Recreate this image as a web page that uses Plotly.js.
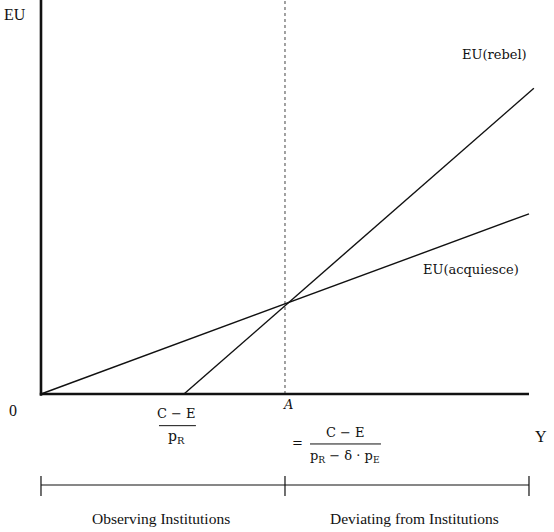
<!DOCTYPE html>
<html>
<head>
<meta charset="utf-8">
<script src="https://cdn.plot.ly/plotly-3.0.1.min.js"></script>
<style>html,body{margin:0;padding:0;background:#fff;}</style>
</head>
<body>
<div id="chart" style="width:554px;height:532px;"></div>
<script>
// Model values (x = Y, y = EU), A normalised to 1
const thresholdA = 1.0;
const axisEndX = 2.0;
const axisTopY = 4.33;
const acquiesceX = [0, 2.0];
const acquiesceY = [0, 1.98];
const rebelX = [0.586, 2.02];
const rebelY = [0, 3.36];
const bracketTicks = [0, 1, 2];
const regionLabels = ["Observing Institutions", "Deviating from Institutions"];
const lineLabels = ["EU(rebel)", "EU(acquiesce)"];

const ink = '#111';
const serif = 'Liberation Serif, Times New Roman, serif';
const mathSerif = 'DejaVu Serif, serif';
const bracketY = -1.0;

function seg(x, y, w, dash, color) {
  return {x: x, y: y, mode: 'lines', type: 'scatter', hoverinfo: 'skip', showlegend: false,
          line: {color: color || ink, width: w, dash: dash || 'solid'}};
}

const traces = [
  seg([thresholdA, thresholdA], [0, axisTopY], 1, 'dot', '#444'),
  seg(acquiesceX, acquiesceY, 1.4),
  seg(rebelX, rebelY, 1.4),
  seg([0, 0], [-0.02, axisTopY], 2.6),
  seg([-0.005, axisEndX], [0, 0], 2.6),
  seg([bracketTicks[0], bracketTicks[bracketTicks.length - 1]], [bracketY, bracketY], 1.2),
  seg([0.4836, 0.635], [-0.348, -0.348], 1),
  seg([1.1025, 1.3934], [-0.549, -0.549], 1)
];
bracketTicks.forEach(t => traces.push(seg([t, t], [-0.901, -1.121], 1.2)));

function ann(text, x, y, size, fam) {
  return {text: text, x: x, y: y, xref: 'x', yref: 'y', showarrow: false,
    xanchor: 'center', yanchor: 'middle', font: {family: fam || serif, size: size, color: ink}};
}

const annotations = [
  ann('EU', -0.1066, 4.165, 16),
  ann('0', -0.115, -0.176, 16),
  ann('Y', 2.049, -0.4615, 16),
  ann('<i>A</i>', 1.012, -0.11, 13, mathSerif),
  ann('C − E', 0.557, -0.209, 13, mathSerif),
  ann('p<sub>R</sub>', 0.557, -0.4725, 14, mathSerif),
  ann('=', 1.053, -0.538, 13, mathSerif),
  ann('C − E', 1.246, -0.418, 13, mathSerif),
  ann('p<sub>R</sub> − δ · p<sub>E</sub>', 1.246, -0.692, 13, mathSerif),
  ann(regionLabels[0], 0.49, -1.363, 15.5),
  ann(regionLabels[1], 1.529, -1.363, 15.5),
  ann(lineLabels[0], 1.857, 3.736, 13, mathSerif),
  ann(lineLabels[1], 1.762, 1.363, 13, mathSerif)
];

const layout = {
  width: 554, height: 532, autosize: false,
  margin: {l: 0, r: 0, t: 0, b: 0, pad: 0},
  paper_bgcolor: '#fff', plot_bgcolor: '#fff',
  xaxis: {range: [-0.168, 2.1025], visible: false, fixedrange: true},
  yaxis: {range: [-1.5165, 4.3297], visible: false, fixedrange: true},
  annotations: annotations,
  showlegend: false
};

Plotly.newPlot('chart', traces, layout, {displayModeBar: false, staticPlot: true});
</script>
</body>
</html>
